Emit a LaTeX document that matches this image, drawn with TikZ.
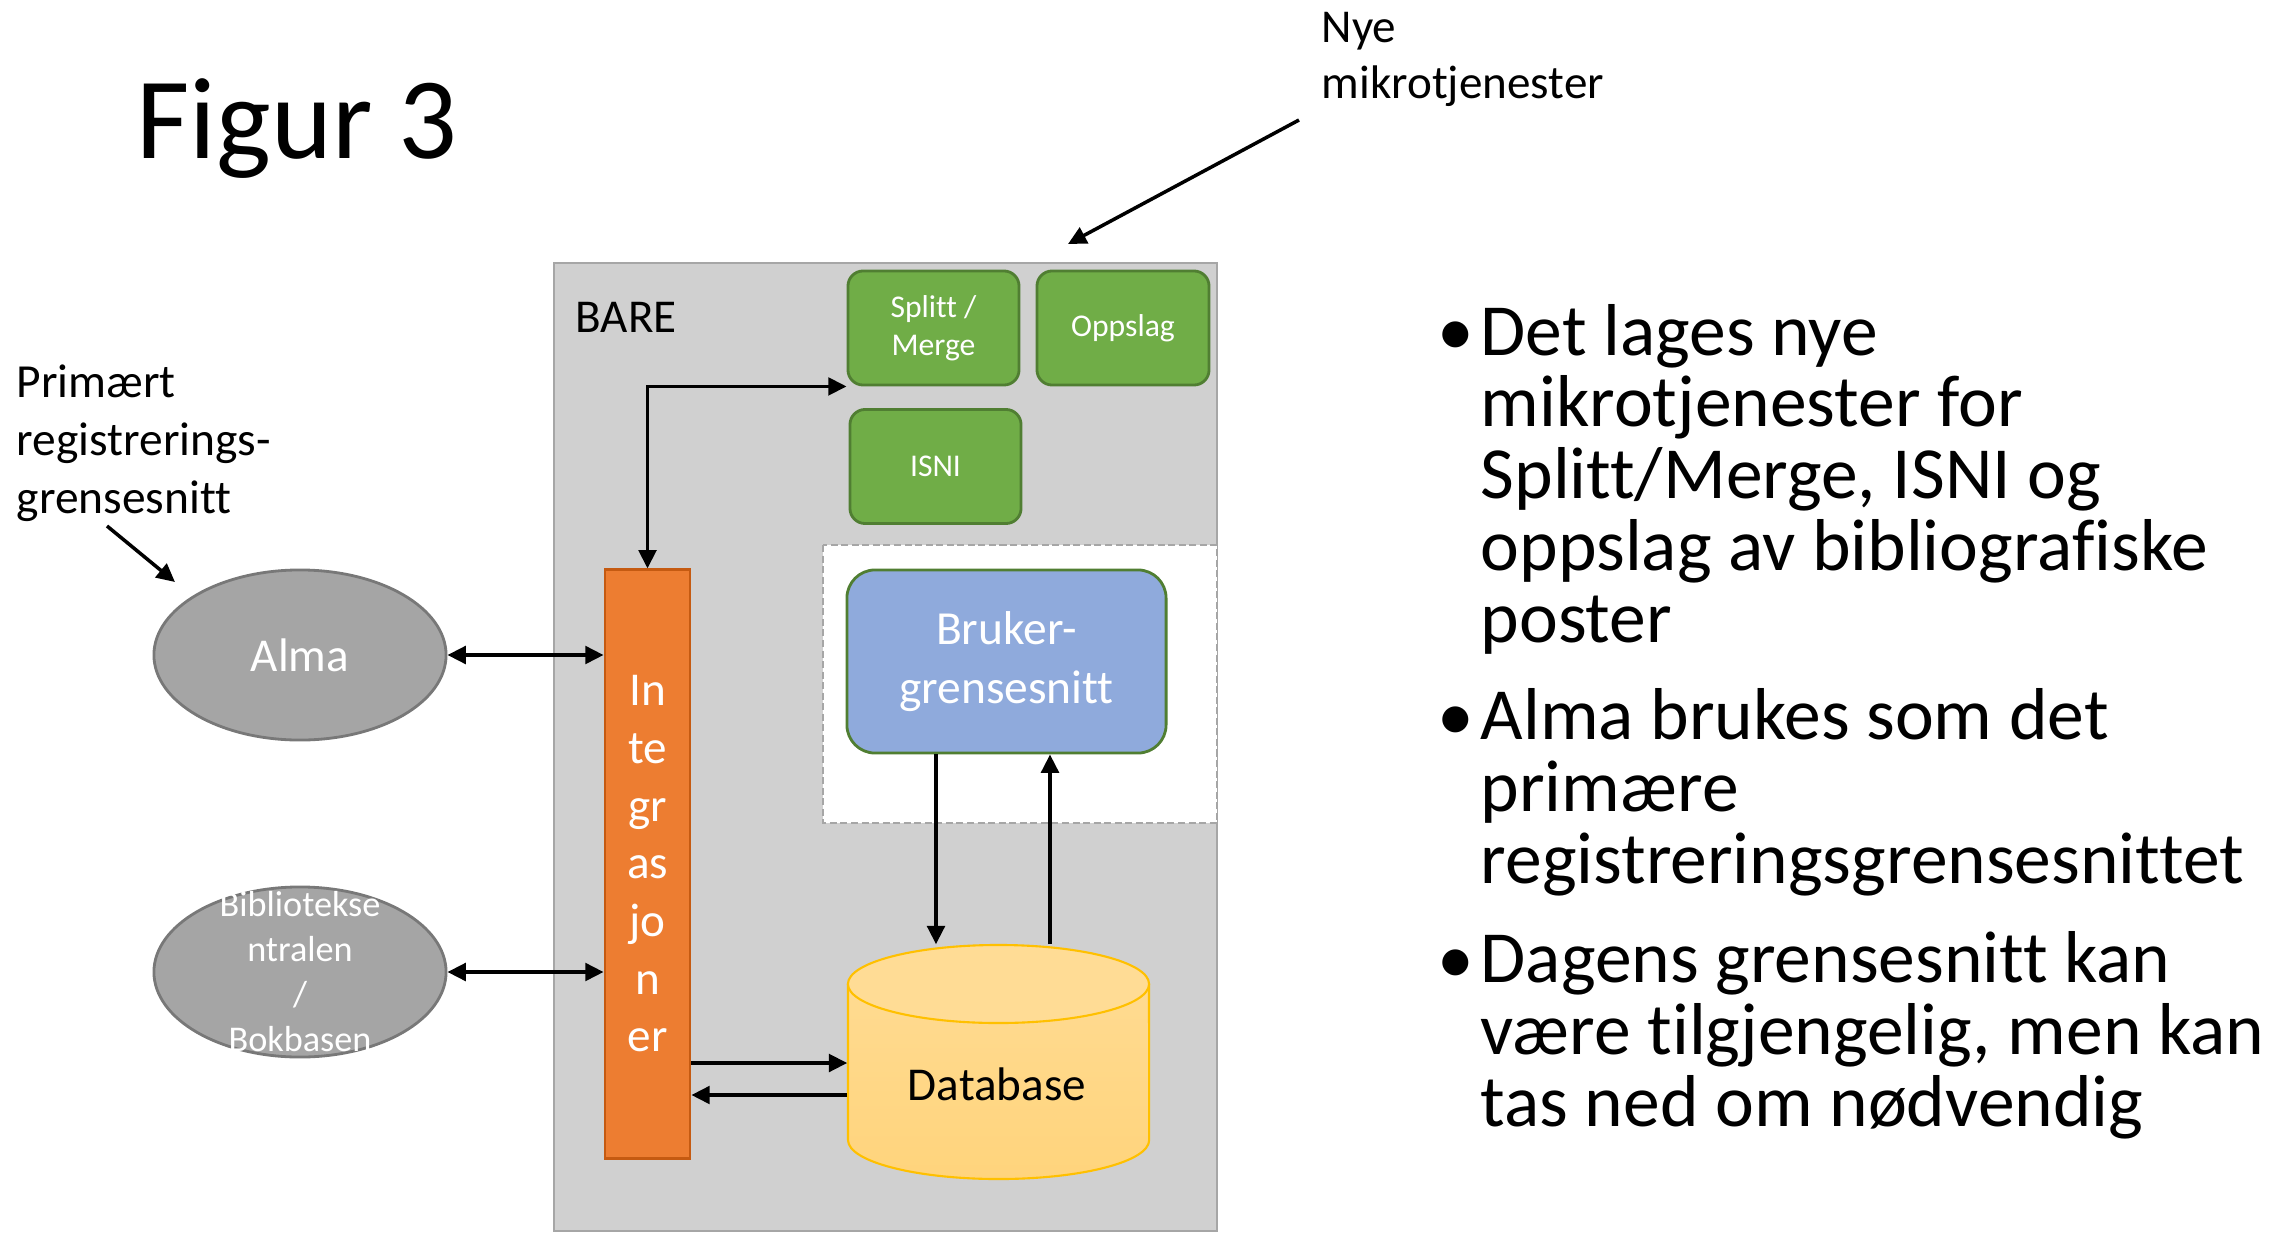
\documentclass[tikz,border=0pt]{standalone}
\usepackage{fontspec}
\setmainfont[Ligatures=NoCommon]{Carlito}
\usetikzlibrary{arrows.meta,shapes.geometric}

\definecolor{baregray}{HTML}{D0D0D0}
\definecolor{bareline}{HTML}{A6A6A6}
\definecolor{tjgreen}{HTML}{70AD47}
\definecolor{tjline}{HTML}{507E32}
\definecolor{brukerblue}{HTML}{8FAADC}
\definecolor{intorange}{HTML}{ED7D31}
\definecolor{intline}{HTML}{C55A11}
\definecolor{kildegray}{HTML}{A5A5A5}
\definecolor{kildeline}{HTML}{787878}
\definecolor{dbtop}{HTML}{FFDC95}
\definecolor{dbbot}{HTML}{FFD47C}
\definecolor{dbline}{HTML}{FFC000}

\newcommand{\fs}[2]{\fontsize{#1}{#2}\selectfont}

\begin{document}
\begin{tikzpicture}[x=0.01cm,y=-0.01cm,
	>={Triangle[length=5.2pt,width=5pt]},
	conn/.style={line width=1pt},
	plain/.style={inner sep=0pt, align=left, anchor=base west},
	tjeneste/.style={rectangle, rounded corners=4.3pt, fill=tjgreen, draw=tjline,
		line width=0.8pt, text=white, align=center, minimum width=1.71cm,
		minimum height=1.14cm, font=\fs{9}{10.8}},
	kilde/.style={ellipse, fill=kildegray, draw=kildeline, line width=0.8pt,
		minimum width=2.92cm, minimum height=1.70cm, inner sep=0pt, text=white}]
	\useasboundingbox (0,0) rectangle (2293,1233);

	% BARE-rammen
	\draw[fill=baregray, draw=bareline, line width=0.6pt] (554,263) rectangle (1217,1231);
	\draw[fill=white, draw=bareline, line width=0.5pt, dash pattern=on 2pt off 1pt] (823,545) rectangle (1217,823);

	% tekster (base = siste linje)
	\node[plain, font=\fs{33}{40}] (figur) at (136,158) {Figur 3};
	\node[plain, font=\fs{13.4}{15.8}] (nye) at (1321,98.5) {Nye\\mikrotjenester};
	\node[plain, font=\fs{13.5}{16.4}] (primaert) at (16,513) {Primært\\registrerings-\\grensesnitt};
	\node[plain, font=\fs{13.4}{16}] (bare) at (575,332) {BARE};

	\node[tjeneste] (splitt) at (933.5,328) {Splitt /\\Merge};
	\node[tjeneste, minimum width=1.72cm] (oppslag) at (1123,328) {Oppslag};
	\node[tjeneste] (isni) at (935.5,466.5) {ISNI};

	\node[rectangle, rounded corners=8pt, fill=brukerblue, draw=tjline, line width=0.8pt,
		text=white, align=center, minimum width=3.19cm, minimum height=1.83cm,
		font=\fs{13.5}{16.6}] (bruker) at (1006.5,661.5) {Bruker-\\grensesnitt};

	\node[rectangle, fill=intorange, draw=intline, line width=0.8pt, text=white,
		align=center, minimum width=0.85cm, minimum height=5.88cm,
		font=\fs{13.4}{16.4}] (integ) at (647.5,864) {In\\te\\gr\\as\\jo\\n\\er};

	\node[kilde, font=\fs{13.4}{16}] (alma) at (300,655) {Alma};
	\node[kilde, label={[text=white, align=center, font=\fs{10.3}{12.8}]center:Bibliotekse\\ntralen\\/\\Bokbasen}] (bib) at (300,972) {};

	% databasen
	\fill[top color=dbtop, bottom color=dbbot] (848,984) -- (848,1140)
		arc[start angle=180, end angle=360, x radius=1.505cm, y radius=0.39cm]
		-- (1149,984) arc[start angle=0, end angle=180, x radius=1.505cm, y radius=0.39cm] -- cycle;
	\draw[dbline, line width=0.6pt] (848,984) -- (848,1140)
		arc[start angle=180, end angle=360, x radius=1.505cm, y radius=0.39cm] -- (1149,984);
	\filldraw[fill=dbtop, draw=dbline, line width=0.6pt] (998.5,984) ellipse[x radius=1.505cm, y radius=0.39cm];
	\node[minimum width=3.01cm, minimum height=2.34cm, inner sep=0pt] (db) at (998.5,1062) {};
	\node[font=\fs{13.4}{16}] (dbtekst) at (997,1084) {Database};

	% punktliste
	\node[plain, font=\fs{20.9}{20.4}] (kulepunkt1) at (1437,355) {\textbullet};
	\node[plain, font=\fs{20.9}{20.4}] (punkt1) at (1480,642) {Det lages nye\\mikrotjenester for\\Splitt/Merge, ISNI og\\oppslag av bibliografiske\\poster};
	\node[plain, font=\fs{20.9}{20.4}] (kulepunkt2) at (1437,740) {\textbullet};
	\node[plain, font=\fs{20.9}{20.4}] (punkt2) at (1480,883) {Alma brukes som det\\primære\\registreringsgrensesnittet};
	\node[plain, font=\fs{20.9}{20.4}] (kulepunkt3) at (1437,983) {\textbullet};
	\node[plain, font=\fs{20.9}{20.4}] (punkt3) at (1480,1126) {Dagens grensesnitt kan\\være tilgjengelig, men kan\\tas ned om nødvendig};

	\coordinate (nyefra) at (1299,120);
	\coordinate (nyetil) at (1068,244);
	\coordinate (primfra) at (107,526);
	\coordinate (primtil) at (175,582);

	\draw[->, conn] (nyefra) -- (nyetil);
	\draw[->, conn] (primfra) -- (primtil);
	\draw[<->, conn] (alma.east) -- (alma.east -| integ.west);
	\draw[<->, conn] (bib.east) -- (bib.east -| integ.west);
	\draw[<->, conn] (integ.north) |- (splitt.south west);
	\draw[->, conn] (integ.east |- 0,1063) -- (db.west |- 0,1063);
	\draw[->, conn] (db.west |- 0,1095) -- (integ.east |- 0,1095);
	\draw[->, conn] (bruker.south -| 936,0) -- (db.north -| 936,0);
	\draw[->, conn] (db.north -| 1050,0) -- (bruker.south -| 1050,0);
\end{tikzpicture}
\end{document}
